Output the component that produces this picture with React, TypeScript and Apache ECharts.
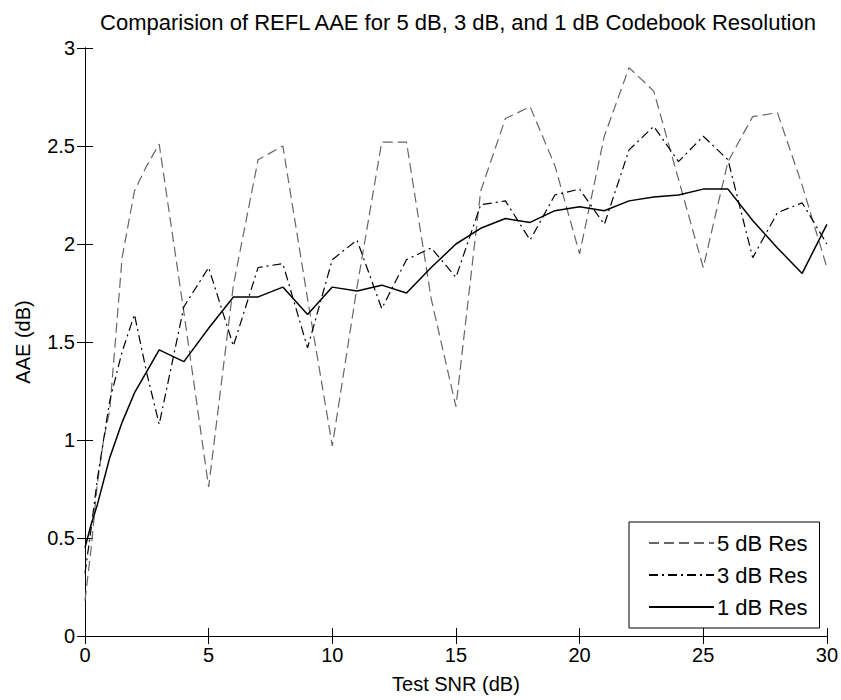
import React, { useEffect, useRef } from "react";
import * as echarts from "echarts";

const titleText = "Comparision of REFL AAE for 5 dB, 3 dB, and 1 dB Codebook Resolution";
const xName = "Test SNR (dB)";
const yName = "AAE (dB)";
const seriesNames = ["5 dB Res", "3 dB Res", "1 dB Res"];

const snr = [0, 0.25, 0.5, 0.75, 1, 1.5, 2, 2.5, 3, 4, 5, 6, 7, 8, 9, 10, 11, 12, 13, 14, 15, 16, 17, 18, 19, 20, 21, 22, 23, 24, 25, 26, 27, 28, 29, 30];

const res5 = [0.18, 0.45, 0.78, 1.0, 1.15, 1.93, 2.27, 2.4, 2.51, 1.65, 0.76, 1.79, 2.43, 2.5, 1.72, 0.97, 1.78, 2.52, 2.52, 1.72, 1.17, 2.27, 2.64, 2.7, 2.4, 1.95, 2.55, 2.9, 2.78, 2.33, 1.88, 2.42, 2.65, 2.67, 2.3, 1.88];
const res3 = [0.32, 0.55, 0.8, 1.0, 1.2, 1.45, 1.64, 1.34, 1.08, 1.68, 1.88, 1.48, 1.88, 1.9, 1.47, 1.92, 2.02, 1.67, 1.92, 1.98, 1.83, 2.2, 2.22, 2.02, 2.25, 2.28, 2.1, 2.48, 2.6, 2.42, 2.55, 2.43, 1.93, 2.16, 2.21, 2.0];
const res1 = [0.45, 0.57, 0.67, 0.79, 0.91, 1.09, 1.24, 1.35, 1.46, 1.4, 1.57, 1.73, 1.73, 1.78, 1.64, 1.78, 1.76, 1.79, 1.75, 1.88, 2.0, 2.08, 2.13, 2.11, 2.17, 2.19, 2.17, 2.22, 2.24, 2.25, 2.28, 2.28, 2.12, 1.98, 1.85, 2.1];

const FONT = "'Liberation Sans', Arial, Helvetica, sans-serif";

function pairs(ys: number[]) {
  return snr.map((x, i) => [x, ys[i]]);
}

export default function App() {
  const ref = useRef<HTMLDivElement>(null);
  useEffect(() => {
    if (!ref.current) return;
    const chart = echarts.init(ref.current, undefined, { renderer: "svg" });
    const axisLine = { show: true, lineStyle: { color: "#000", width: 1 } };
    const tickIn = { show: true, inside: true, length: 8, lineStyle: { color: "#000", width: 1 } };
    chart.setOption({
      animation: false,
      backgroundColor: "#fff",
      textStyle: { fontFamily: FONT, color: "#000" },
      title: {
        text: titleText,
        left: 453,
        top: 6,
        textAlign: "center",
        textStyle: { fontFamily: FONT, fontSize: 22, fontWeight: "normal", color: "#000" },
      },
      grid: { left: 85, right: 11, top: 48, bottom: 64, containLabel: false },
      legend: {
        orient: "vertical",
        left: 629,
        top: 522,
        data: seriesNames,
        backgroundColor: "#fff",
        borderColor: "#000",
        borderWidth: 1,
        borderRadius: 0,
        padding: [10, 12, 10, 19],
        itemGap: 10,
        itemWidth: 65,
        itemHeight: 14,
        itemStyle: { color: "transparent", borderColor: "transparent", borderWidth: 0, opacity: 0 },
        textStyle: { fontFamily: FONT, fontSize: 22, color: "#000", padding: [0, 0, 0, -2] },
      },
      xAxis: [
        {
          type: "value",
          min: 0,
          max: 30,
          interval: 5,
          position: "bottom",
          name: xName,
          nameLocation: "middle",
          nameGap: 38,
          nameTextStyle: { fontFamily: FONT, fontSize: 20, color: "#000" },
          axisLine,
          axisTick: tickIn,
          axisLabel: { fontFamily: FONT, fontSize: 20, color: "#000", margin: 9 },
          splitLine: { show: false },
        },
        {
          type: "value",
          min: 0,
          max: 30,
          interval: 5,
          position: "top",
          axisLine,
          axisTick: tickIn,
          axisLabel: { show: false },
          splitLine: { show: false },
        },
      ],
      yAxis: [
        {
          type: "value",
          min: 0,
          max: 3,
          interval: 0.5,
          position: "left",
          name: yName,
          nameLocation: "middle",
          nameGap: 52,
          nameTextStyle: { fontFamily: FONT, fontSize: 20, color: "#000" },
          axisLine,
          axisTick: tickIn,
          axisLabel: { fontFamily: FONT, fontSize: 20, color: "#000", margin: 10 },
          splitLine: { show: false },
        },
        {
          type: "value",
          min: 0,
          max: 3,
          interval: 0.5,
          position: "right",
          axisLine,
          axisTick: tickIn,
          axisLabel: { show: false },
          splitLine: { show: false },
        },
      ],
      series: [
        {
          name: seriesNames[0],
          type: "line",
          data: pairs(res5),
          symbol: "none",
          color: "#666",
          lineStyle: { color: "#666", width: 1.2, type: [10, 5] },
        },
        {
          name: seriesNames[1],
          type: "line",
          data: pairs(res3),
          symbol: "none",
          color: "#000",
          lineStyle: { color: "#000", width: 1.2, type: [9, 4, 2, 4] },
        },
        {
          name: seriesNames[2],
          type: "line",
          data: pairs(res1),
          symbol: "none",
          color: "#000",
          lineStyle: { color: "#000", width: 1.5, type: "solid" },
        },
      ],
    });
    return () => chart.dispose();
  }, []);
  return (
    <div
      ref={ref}
      style={{ position: "absolute", left: 0, top: 0, width: 841, height: 700 }}
    />
  );
}
